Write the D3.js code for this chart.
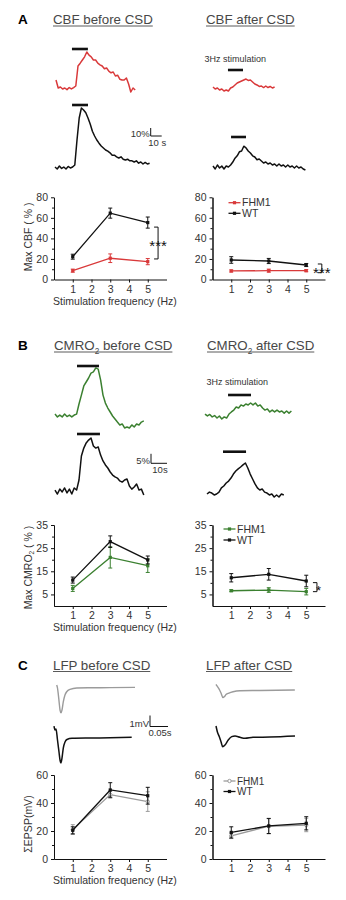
<!DOCTYPE html>
<html>
<head>
<meta charset="utf-8">
<script src="https://cdn.jsdelivr.net/npm/d3@7"></script>
<style>
body { margin: 0; background: #fff; }
svg { display: block; }
</style>
</head>
<body>
<script>
// ---- data ----
var xTicks = [1, 2, 3, 4, 5];
var freqs = [1, 3, 5];

// A: max CBF (%)
var cbfTicks = [0, 20, 40, 60, 80];
var cbfMinor = [10, 30, 50, 70];
var cbfBeforeWT = [22.2, 64.6, 55.4];
var cbfBeforeWTErr = [2.4, 4.9, 5.4];
var cbfBeforeFHM1 = [8.6, 20.7, 17.4];
var cbfBeforeFHM1Err = [1.5, 4.2, 3.0];
var cbfAfterWT = [19.0, 18.0, 14.1];
var cbfAfterWTErr = [3.2, 2.5, 1.5];
var cbfAfterFHM1 = [8.3, 8.6, 8.6];
var cbfAfterFHM1Err = [1.0, 1.5, 1.0];

// B: max CMRO2 (%)
var cmroTicks = [5, 15, 25, 35];
var cmroMinor = [10, 20, 30];
var cmroBeforeWT = [11.2, 27.8, 19.9];
var cmroBeforeWTErr = [1.3, 2.5, 1.7];
var cmroBeforeFHM1 = [7.6, 21.0, 17.4];
var cmroBeforeFHM1Err = [1.3, 4.6, 2.9];
var cmroAfterWT = [12.2, 13.7, 10.8];
var cmroAfterWTErr = [1.8, 2.5, 2.5];
var cmroAfterFHM1 = [6.6, 6.9, 6.2];
var cmroAfterFHM1Err = [0.4, 1.0, 1.4];

// C: sum EPSP (mV)
var epspTicks = [0, 20, 40, 60];
var epspMinor = [10, 30, 50];
var epspBeforeWT = [20.5, 49.3, 45.2];
var epspBeforeWTErr = [2.5, 5.2, 6.0];
var epspBeforeFHM1 = [21.0, 46.0, 41.0];
var epspBeforeFHM1Err = [3.5, 2.5, 7.0];
var epspAfterWT = [19.0, 23.6, 25.5];
var epspAfterWTErr = [4.0, 5.4, 4.7];
var epspAfterFHM1 = [16.6, 23.4, 24.3];
var epspAfterFHM1Err = [2.0, 5.4, 4.8];

// example traces, CBF (%) every 2 s
var cbfBeforeFHM1Trace = [10, 0, 1.2, -1.2, 0, -2, 0.6, -1.2, 0.6, 2.5, 27.5, 31, 35, 39, 45, 41, 39, 35, 35, 31, 29, 27.5, 24, 25, 21, 19, 20, 15, 16, 11, 10, 10, 12.5, 5, -5, 0, -2.5];
var cbfBeforeWTTrace = [1.2, -1.2, 2.5, -0.6, 1.2, -1.2, 1.9, 0, 1.2, 3.8, 35, 62.5, 75, 72.5, 69, 62.5, 55, 46, 40, 35, 31, 27.5, 25, 22.5, 21, 19, 16, 16, 14, 12.5, 14, 11, 10, 11, 9, 9, 7.5, 9, 6, 7.5, 5, 7, 5, 6];
var cbfAfterFHM1Trace = [1.2, -1.2, 0, -2.5, -1.2, -3.8, -2.5, -3.8, 0, 1.2, 3.8, 6.2, 7.5, 8.8, 10, 11.2, 9.4, 10, 7.5, 5, 3.8, 1.9, 2.5, 0.6, 2.5, 0.6, 1.9, 0, 1.2];
var cbfAfterWTTrace = [1.2, -2.5, 2.5, -1.2, 1.2, -2.5, 1.2, 0, 2.5, 6.2, 11, 14, 19, 20, 26, 24, 20, 17.5, 14, 12.5, 9, 10, 7.5, 5, 6.2, 3.8, 5, 2.5, 3.8, 1.2, 3.8, 1.2, 2.5, 0, 2.5, 0, 1.2, -1.2, 1.2, -1.2, 0, -2.5, -3.8];

// example traces, CMRO2 (%) every 1.5 s
var cmroBeforeFHM1Trace = [1, -0.5, 0.5, -0.5, 1, -0.3, 0.5, -0.5, 0.5, 1, 6.3, 11, 15.8, 17.9, 20, 22.6, 23.2, 25.3, 24.7, 19, 11, 6.8, 4.2, 2.1, 0, -1.6, -3.2, -4.7, -4.2, -6.3, -5.8, -6.3, -4.7, -5.8, -4.2, -4.7, -3.2, -2.6];
var cmroBeforeWTTrace = [0.5, -1.6, 1, -0.5, 1.6, -1, 1, -1.6, 1.6, 0.5, 5.8, 18.4, 22.6, 25.3, 26.8, 27.9, 23.7, 22.6, 23.2, 18.9, 15.8, 13.7, 12.1, 10, 8.4, 7.4, 6.8, 5.3, 4.7, 5.8, 6.3, 2.6, 1, 2.1, 3.7, 0.5, 1, -2.1];
var cmroAfterFHM1Trace = [0.5, -0.5, 0.3, -1, -0.3, -1.6, -0.5, -2.1, -1, -1.6, 0.5, 1.6, 2.6, 4.2, 3.7, 5.3, 4.7, 5.8, 5.3, 6.3, 5.3, 6.3, 4.7, 5.3, 3.7, 2.6, 3.2, 1.6, 2.6, 1.6, 2.6, 1.6, 2.1, 1, 2.1, 1, 2.1];
var cmroAfterWTTrace = [0, 1, 0.5, -0.5, 0, 1, 3.2, 4.2, 5.8, 6.8, 8.4, 10.5, 12.1, 13.2, 14.2, 15.3, 16.3, 13.7, 10.5, 7.9, 5.3, 3.2, 2.1, 2.6, 1, 0.5, -0.5, 0, -1.6, -0.5, -1.6, 0, -0.5];

// example LFP traces, [ms, mV]
var lfpBeforeFHM1 = [[0, 0.27], [2.2, 0], [4.4, -0.55], [7, -1.36], [9.2, -2], [12, -2.25], [14.7, -2], [18.3, -1.27], [23, -0.64], [27.8, -0.34], [37, -0.12], [55.6, 0], [92.5, 0.02], [148, 0.03], [217.5, 0.06]];
var lfpBeforeWT = [[0, 1.09], [2.8, 0.73], [5.6, 0.82], [9.7, -0.18], [13.9, -1.27], [16.7, -2], [19.4, -2.27], [22.2, -1.82], [25.8, -0.91], [30.6, -0.36], [36, -0.14], [50, -0.03], [100, 0], [155.6, 0.02], [215.8, 0.06]];
var lfpAfterFHM1 = [[0, 0.56], [2.8, 0.41], [8.3, 0.14], [13.9, -0.23], [19.4, -0.64], [23.6, -0.55], [27.8, -0.36], [36, -0.23], [47.2, -0.11], [66.7, -0.02], [122, 0], [219, 0.05]];
var lfpAfterWT = [[0, 1], [3.7, 0.48], [9.2, 0.03], [13.9, -0.43], [18.5, -0.88], [25, -0.73], [34, -0.27], [43.6, 0.03], [52.8, 0.09], [66.7, -0.03], [80.6, -0.12], [102.8, -0.03], [150, 0], [219.4, 0.09]];

// ---- drawing ----
var font = "Arial, 'Liberation Sans', sans-serif";
var red = "#d9393a", green = "#3b8030", grey = "#9b9b9b", ink = "#111", textInk = "#333", titleInk = "#474747";

var svg = d3.select("body").append("svg")
	.attr("width", 346)
	.attr("height", 900)
	.attr("font-family", font);

// rich text: parts = [[string, isSubscript], ...]
function richText(sel, parts, fs) {
	var sub = false;
	parts.forEach(function(p) {
		var t = sel.append("tspan").text(p[0]);
		if (p[1] && !sub) t.attr("dy", fs * 0.28).attr("font-size", fs * 0.62);
		if (!p[1] && sub) t.attr("dy", -fs * 0.28);
		sub = p[1];
	});
	return sel;
}

function panelTitle(letter, lx, x, y, parts, x2, parts2) {
	svg.append("text").attr("x", lx).attr("y", y)
		.attr("font-size", 13.5).attr("font-weight", "bold").attr("fill", "#000").text(letter);
	[[x, parts], [x2, parts2]].forEach(function(d) {
		var t = svg.append("text").attr("x", d[0]).attr("y", y)
			.attr("font-size", 13.3).attr("fill", titleInk);
		richText(t, d[1], 13.3);
		var w = t.node().getBBox().width;
		svg.append("line").attr("x1", d[0]).attr("x2", d[0] + w)
			.attr("y1", y + 2).attr("y2", y + 2)
			.attr("stroke", titleInk).attr("stroke-width", 0.9);
	});
}

function drawTrace(t) {
	var pts = t.pairs || t.vals.map(function(v, i) { return [i * t.step, v]; });
	var x = d3.scaleLinear().domain([0, 1]).range([t.x0, t.x0 + t.sx]);
	var y = d3.scaleLinear().domain([0, 1]).range([t.y0, t.y0 - t.sy]);
	svg.append("path").datum(pts)
		.attr("d", d3.line().x(function(d) { return x(d[0]); }).y(function(d) { return y(d[1]); })
			.curve(t.pairs ? d3.curveMonotoneX : d3.curveLinear))
		.attr("fill", "none")
		.attr("stroke", t.color)
		.attr("stroke-width", t.width || 1.5)
		.attr("stroke-linejoin", "round");
	if (t.stim) {
		svg.append("line")
			.attr("x1", x(t.stim[0])).attr("x2", x(t.stim[1]))
			.attr("y1", t.barY).attr("y2", t.barY)
			.attr("stroke", ink).attr("stroke-width", 2.6);
	}
}

function scaleBar(b) {
	svg.append("path")
		.attr("d", "M" + b.x + "," + (b.y - b.vLen * b.sy) + "V" + b.y + "H" + (b.x + b.hLen * b.sx))
		.attr("fill", "none").attr("stroke", ink).attr("stroke-width", 1);
	svg.append("text").attr("x", b.x - 1).attr("y", b.y + 0.5).attr("text-anchor", "end")
		.attr("font-size", 9.5).attr("fill", textInk).text(b.vText);
	svg.append("text").attr("x", b.x + b.hLen * b.sx / 2 + 1).attr("y", b.y + 9.5).attr("text-anchor", "middle")
		.attr("font-size", 9.5).attr("fill", textInk).text(b.hText);
}

function stimLabel(x, y) {
	svg.append("text").attr("x", x).attr("y", y)
		.attr("font-size", 9).attr("fill", textInk).text("3Hz stimulation");
}

function drawChart(c) {
	var x = d3.scaleLinear().domain([0, 6]).range([c.left, c.left + 112.5]);
	var y = d3.scaleLinear().domain([0, c.max]).range([c.bottom, c.top]);
	var g = svg.append("g");

	g.append("g").attr("transform", "translate(" + x(0) + ",0)")
		.call(d3.axisLeft(y).tickValues(c.minor).tickSize(2).tickFormat("").tickSizeOuter(0));
	g.append("g").attr("transform", "translate(" + x(0) + ",0)")
		.call(d3.axisLeft(y).tickValues(c.ticks).tickFormat(d3.format("d")).tickSize(3).tickPadding(3).tickSizeOuter(0));
	g.append("g").attr("transform", "translate(0," + y(0) + ")")
		.call(d3.axisBottom(x).tickValues(xTicks).tickFormat(d3.format("d")).tickSize(3).tickPadding(3).tickSizeOuter(0));
	g.selectAll("g").attr("font-family", font);
	g.selectAll(".domain, .tick line").attr("stroke", ink).attr("stroke-width", 1);
	g.selectAll(".tick text").attr("font-size", 10.5).attr("fill", textInk);

	var series = [
		{v: c.fhm, e: c.fhmErr, color: c.color, round: c.round},
		{v: c.wt, e: c.wtErr, color: ink, round: false}
	];
	series.forEach(function(s) {
		var pts = freqs.map(function(f, i) { return {f: f, v: s.v[i], e: s.e[i]}; });
		g.append("path").datum(pts)
			.attr("d", d3.line().x(function(d) { return x(d.f); }).y(function(d) { return y(d.v); }))
			.attr("fill", "none").attr("stroke", s.color).attr("stroke-width", 1.3);
		var p = g.selectAll(null).data(pts).enter().append("g");
		p.append("line")
			.attr("x1", function(d) { return x(d.f); }).attr("x2", function(d) { return x(d.f); })
			.attr("y1", function(d) { return y(d.v - d.e); }).attr("y2", function(d) { return y(d.v + d.e); })
			.attr("stroke", s.color).attr("stroke-width", 1);
		[-1, 1].forEach(function(sgn) {
			p.append("line")
				.attr("x1", function(d) { return x(d.f) - 2; }).attr("x2", function(d) { return x(d.f) + 2; })
				.attr("y1", function(d) { return y(d.v + sgn * d.e); }).attr("y2", function(d) { return y(d.v + sgn * d.e); })
				.attr("stroke", s.color).attr("stroke-width", 1);
		});
		if (s.round) {
			p.append("circle").attr("cx", function(d) { return x(d.f); }).attr("cy", function(d) { return y(d.v); })
				.attr("r", 1.7).attr("fill", "#fff").attr("stroke", s.color).attr("stroke-width", 1);
		} else {
			p.append("rect").attr("x", function(d) { return x(d.f) - 1.6; }).attr("y", function(d) { return y(d.v) - 1.6; })
				.attr("width", 3.2).attr("height", 3.2).attr("fill", s.color);
		}
	});

	if (c.sig) {
		var s = c.sig;
		g.append("path")
			.attr("d", "M" + (x(s.x) - 4) + "," + y(s.y1) + "H" + x(s.x) + "V" + y(s.y2) + "H" + (x(s.x) - 4))
			.attr("fill", "none").attr("stroke", ink).attr("stroke-width", 1);
		g.append("text").attr("x", x(s.tx)).attr("y", y(s.ty) + 0.57 * s.fs)
			.attr("text-anchor", "middle").attr("font-size", s.fs).attr("fill", ink).text(s.label);
	}

	if (c.yLabel) {
		var mid = (c.top + c.bottom) / 2 + c.yLabelShift;
		var t = g.append("text").attr("transform", "translate(31.5," + mid + ") rotate(-90)")
			.attr("text-anchor", "middle").attr("font-size", 10.5).attr("fill", textInk);
		richText(t, c.yLabel, 10.5);
	}
	if (c.xLabel) {
		g.append("text").attr("x", x(3.25)).attr("y", y(0) + 25)
			.attr("text-anchor", "middle").attr("font-size", 10.5).attr("fill", textInk)
			.text("Stimulation frequency (Hz)");
	}
	if (c.legend) {
		var L = c.legend;
		[[c.color, "FHM1", L.y1, c.round], [ink, "WT", L.y2, false]].forEach(function(d) {
			g.append("line").attr("x1", L.x).attr("x2", L.x + 12).attr("y1", d[2]).attr("y2", d[2])
				.attr("stroke", d[0]).attr("stroke-width", 1.3);
			if (d[3]) {
				g.append("circle").attr("cx", L.x + 6).attr("cy", d[2]).attr("r", 1.7)
					.attr("fill", "#fff").attr("stroke", d[0]).attr("stroke-width", 1);
			} else {
				g.append("rect").attr("x", L.x + 4.4).attr("y", d[2] - 1.6).attr("width", 3.2).attr("height", 3.2).attr("fill", d[0]);
			}
			g.append("text").attr("x", L.x + 13.5).attr("y", d[2] + 3.5)
				.attr("font-size", L.fs).attr("fill", textInk).text(d[1]);
		});
	}
}

// ---- panel A ----
panelTitle("A", 18, 53, 24, [["CBF before CSD", false]], 206, [["CBF after CSD", false]]);
stimLabel(204.5, 61.5);
var cbfS = 1.1, cbfP = 0.8;
drawTrace({vals: cbfBeforeFHM1Trace, step: 2, x0: 56, y0: 88, sx: cbfS, sy: cbfP, color: red, stim: [14.5, 29], barY: 49});
drawTrace({vals: cbfBeforeWTTrace, step: 2, x0: 55, y0: 168, sx: cbfS, sy: cbfP, color: ink, stim: [15.5, 30], barY: 105});
drawTrace({vals: cbfAfterFHM1Trace, step: 2, x0: 213, y0: 88, sx: cbfS, sy: cbfP, color: red, stim: [13.6, 27.3], barY: 70});
drawTrace({vals: cbfAfterWTTrace, step: 2, x0: 213, y0: 167, sx: cbfS, sy: cbfP, color: ink, stim: [16.4, 30], barY: 137});
scaleBar({x: 150.7, y: 136, vLen: 10, sy: cbfP, hLen: 10, sx: cbfS, vText: "10%", hText: "10 s"});

drawChart({left: 54, top: 197.3, bottom: 279.5, max: 80, ticks: cbfTicks, minor: cbfMinor,
	wt: cbfBeforeWT, wtErr: cbfBeforeWTErr, fhm: cbfBeforeFHM1, fhmErr: cbfBeforeFHM1Err, color: red,
	yLabel: [["Max CBF ( % )", false]], yLabelShift: -1.5, xLabel: true,
	sig: {x: 5.55, y1: 51, y2: 20, tx: 5.55, ty: 35.8, label: "***", fs: 15}});
drawChart({left: 212.5, top: 197.3, bottom: 279.5, max: 80, ticks: cbfTicks, minor: cbfMinor,
	wt: cbfAfterWT, wtErr: cbfAfterWTErr, fhm: cbfAfterFHM1, fhmErr: cbfAfterFHM1Err, color: red,
	legend: {x: 228.5, y1: 202.7, y2: 213.3, fs: 10.5},
	sig: {x: 5.83, y1: 15.1, y2: 6.6, tx: 5.83, ty: 10.2, label: "***", fs: 15}});

// ---- panel B ----
panelTitle("B", 18, 54, 350, [["CMRO", false], ["2", true], [" before CSD", false]],
	207, [["CMRO", false], ["2", true], [" after CSD", false]]);
stimLabel(206.5, 385);
var cmS = 1.6, cmP = 1.9;
drawTrace({vals: cmroBeforeFHM1Trace, step: 1.5, x0: 55, y0: 416, sx: cmS, sy: cmP, color: green, stim: [13.75, 27.5], barY: 366});
drawTrace({vals: cmroBeforeWTTrace, step: 1.5, x0: 55, y0: 491, sx: cmS, sy: cmP, color: ink, stim: [13.75, 28.1], barY: 434});
drawTrace({vals: cmroAfterFHM1Trace, step: 1.5, x0: 205, y0: 415, sx: cmS, sy: cmP, color: green, stim: [14.4, 28.75], barY: 395});
drawTrace({vals: cmroAfterWTTrace, step: 1.5, x0: 207, y0: 494, sx: cmS, sy: cmP, color: ink, stim: [10, 24.4], barY: 451.7});
scaleBar({x: 151, y: 463.3, vLen: 5, sy: cmP, hLen: 10, sx: cmS, vText: "5%", hText: "10s"});

drawChart({left: 54, top: 525, bottom: 606, max: 35, ticks: cmroTicks, minor: cmroMinor,
	wt: cmroBeforeWT, wtErr: cmroBeforeWTErr, fhm: cmroBeforeFHM1, fhmErr: cmroBeforeFHM1Err, color: green,
	yLabel: [["Max CMRO", false], ["2", true], [" ( % )", false]], yLabelShift: 2, xLabel: true});
drawChart({left: 212.5, top: 525, bottom: 606, max: 35, ticks: cmroTicks, minor: cmroMinor,
	wt: cmroAfterWT, wtErr: cmroAfterWTErr, fhm: cmroAfterFHM1, fhmErr: cmroAfterFHM1Err, color: green,
	legend: {x: 223.5, y1: 529, y2: 540, fs: 10.5},
	sig: {x: 5.57, y1: 10.1, y2: 6.2, tx: 5.66, ty: 7.8, label: "*", fs: 13}});

// ---- panel C ----
panelTitle("C", 18, 53, 669.5, [["LFP before CSD", false]], 206, [["LFP after CSD", false]]);
var lfS = 0.36, lfP = 11;
drawTrace({pairs: lfpBeforeFHM1, x0: 56.7, y0: 688, sx: lfS, sy: lfP, color: grey, width: 1.4});
drawTrace({pairs: lfpBeforeWT, x0: 54, y0: 738, sx: lfS, sy: lfP, color: ink, width: 1.5});
drawTrace({pairs: lfpAfterFHM1, x0: 216, y0: 690.5, sx: lfS, sy: lfP, color: grey, width: 1.4});
drawTrace({pairs: lfpAfterWT, x0: 216, y0: 737, sx: lfS, sy: lfP, color: ink, width: 1.5});
scaleBar({x: 150, y: 726.5, vLen: 1, sy: lfP, hLen: 50, sx: lfS, vText: "1mV", hText: "0.05s"});

drawChart({left: 54, top: 775, bottom: 859, max: 60, ticks: epspTicks, minor: epspMinor,
	wt: epspBeforeWT, wtErr: epspBeforeWTErr, fhm: epspBeforeFHM1, fhmErr: epspBeforeFHM1Err, color: grey, round: true,
	yLabel: [["\u03a3EPSP(mV)", false]], yLabelShift: 7, xLabel: true});
drawChart({left: 212.5, top: 775, bottom: 859, max: 60, ticks: epspTicks, minor: epspMinor,
	wt: epspAfterWT, wtErr: epspAfterWTErr, fhm: epspAfterFHM1, fhmErr: epspAfterFHM1Err, color: grey, round: true,
	legend: {x: 223.5, y1: 781, y2: 791.5, fs: 10}});
</script>
</body>
</html>
